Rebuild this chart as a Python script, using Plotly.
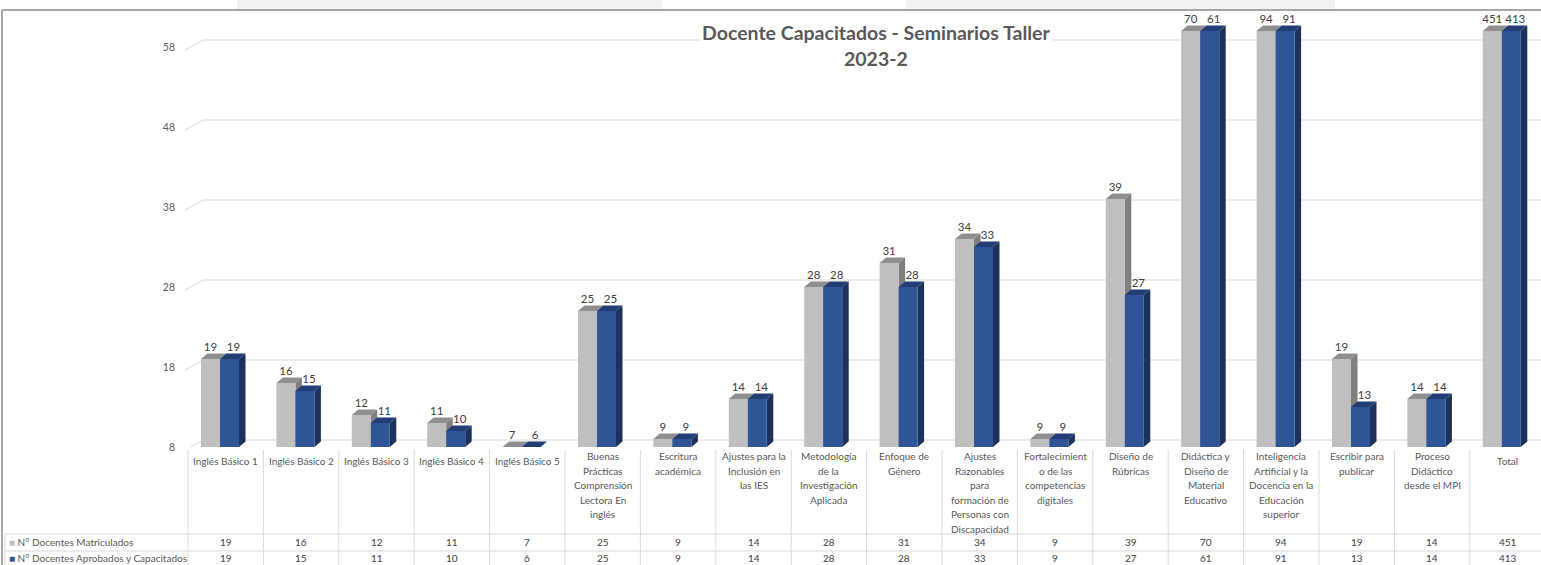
import plotly.graph_objects as go

# ---------------- data ----------------
categories = [
    "Inglés Básico 1", "Inglés Básico 2", "Inglés Básico 3", "Inglés Básico 4",
    "Inglés Básico 5", "Buenas Prácticas Comprensión Lectora En inglés",
    "Escritura académica", "Ajustes para la Inclusión en las IES",
    "Metodología de la Investigación Aplicada", "Enfoque de Género",
    "Ajustes Razonables para formación de Personas con Discapacidad",
    "Fortalecimiento de las competencias digitales", "Diseño de Rúbricas",
    "Didáctica y Diseño de Material Educativo",
    "Inteligencia Artificial y la Docencia en la Educación superior",
    "Escribir para publicar", "Proceso Didáctico desde el MPI", "Total",
]
category_labels = [
    "Inglés Básico 1", "Inglés Básico 2", "Inglés Básico 3", "Inglés Básico 4",
    "Inglés Básico 5", "Buenas<br>Prácticas<br>Comprensión<br>Lectora En<br>inglés",
    "Escritura<br>académica", "Ajustes para la<br>Inclusión en<br>las IES",
    "Metodología<br>de la<br>Investigación<br>Aplicada", "Enfoque de<br>Género",
    "Ajustes<br>Razonables<br>para<br>formación de<br>Personas con<br>Discapacidad",
    "Fortalecimient<br>o de las<br>competencias<br>digitales", "Diseño de<br>Rúbricas",
    "Didáctica y<br>Diseño de<br>Material<br>Educativo",
    "Inteligencia<br>Artificial y la<br>Docencia en la<br>Educación<br>superior",
    "Escribir para<br>publicar", "Proceso<br>Didáctico<br>desde el MPI", "Total",
]
series_names = ["N° Docentes Matriculados", "N° Docentes Aprobados y Capacitados"]
matriculados = [19, 16, 12, 11, 7, 25, 9, 14, 28, 31, 34, 9, 39, 70, 94, 19, 14, 451]
aprobados = [19, 15, 11, 10, 6, 25, 9, 14, 28, 28, 33, 9, 27, 61, 91, 13, 14, 413]
y_ticks = [8, 18, 28, 38, 48, 58]
y_min, y_max = 8, 60
title_lines = ["Docente Capacitados - Seminarios Taller", "2023-2"]

# ---------------- geometry / style ----------------
W, H = 1541, 565
PX_U = 75.4            # pixels per category
PX_V = 8.0             # pixels per value unit
X_LEFT_PX = 179        # plot area left edge
X0_PX = 188            # position of x = -0.5
BASE_PX = 447          # pixel row of y = y_min
TOP_PX = 12
x_lo = -0.5 - (X0_PX - X_LEFT_PX) / PX_U
x_hi = -0.5 + (W - X0_PX) / PX_U
y_hi = y_min + (BASE_PX - TOP_PX) / PX_V
plot_w = W - X_LEFT_PX
plot_h = BASE_PX - TOP_PX


def px_x(px):
    return (px - X_LEFT_PX) / plot_w


def px_y(py):
    return (BASE_PX - py) / plot_h


FONT = "Lato, Calibri, Carlito, 'Liberation Sans', sans-serif"
TXT = "#595959"
bar_w = 19 / PX_U
offsets = [-0.5 + 13 / PX_U, -0.5 + 13 / PX_U + bar_w]
label_shift = [0.0, 4 / PX_U]
dx = 6.5 / PX_U
dy = 5.5 / PX_V
colors = [
    dict(front="#BFBFBF", top="#8F8F8F", side="#7F7F7F"),
    dict(front="#2F5597", top="#213D73", side="#1C325C"),
]

fig = go.Figure()

# back-wall gridlines (with perspective connector from the axis labels)
gx, gy = [], []
for t in y_ticks:
    gx += [-0.5 - 3 / PX_U, -0.5 + 15 / PX_U, x_hi + 1, None]
    gy += [t - 3 / PX_V, t + 7 / PX_V, t + 7 / PX_V, None]
fig.add_trace(go.Scatter(x=gx, y=gy, mode="lines", line=dict(color="#D9D9D9", width=1),
                         hoverinfo="skip", showlegend=False))


def poly_trace(xs, ys, color, name=None):
    return go.Scatter(x=xs, y=ys, mode="lines", fill="toself", fillcolor=color,
                      line=dict(width=0, color=color), name=name,
                      hoverinfo="skip", showlegend=False)


n = len(categories)
for s, vals in enumerate([matriculados, aprobados]):
    c = colors[s]
    vd = [min(max(v, y_min), y_max) for v in vals]
    sx, sy, tx, ty, fx, fy = [], [], [], [], [], []
    for i in range(n):
        x0 = i + offsets[s]
        x1 = x0 + bar_w
        v = vd[i]
        sx += [x1, x1, x1 + dx, x1 + dx, x1, None]
        sy += [y_min, v, v + dy, y_min + dy, y_min, None]
        tx += [x0, x0 + dx, x1 + dx, x1, x0, None]
        ty += [v, v + dy, v + dy, v, v, None]
        fx += [x0, x0, x1, x1, x0, None]
        fy += [y_min, v, v, y_min, y_min, None]
    fig.add_trace(poly_trace(sx, sy, c["side"]))
    fig.add_trace(poly_trace(tx, ty, c["top"]))
    fig.add_trace(poly_trace(fx, fy, c["front"], series_names[s]))
    fig.add_trace(go.Scatter(x=[i + offsets[s] + bar_w / 2 + label_shift[s] for i in range(n)],
                             y=[v + dy for v in vd], mode="text", text=[str(v) for v in vals],
                             textposition="top center", cliponaxis=False,
                             textfont=dict(family=FONT, size=11.5, color="#404040"),
                             hoverinfo="skip", showlegend=False))

shapes = []
# spreadsheet strip above the chart
for a, b in [(237, 662), (906, 1335)]:
    shapes.append(dict(type="rect", xref="paper", yref="paper", x0=px_x(a), x1=px_x(b),
                       y0=px_y(10), y1=px_y(0), fillcolor="#F2F2F2", line=dict(width=0), layer="below"))
# chart border
shapes.append(dict(type="line", xref="paper", yref="paper", x0=px_x(2), x1=px_x(W),
                   y0=px_y(10), y1=px_y(10), line=dict(color="#A6A6A6", width=2)))
shapes.append(dict(type="line", xref="paper", yref="paper", x0=px_x(2), x1=px_x(2),
                   y0=px_y(10), y1=px_y(H), line=dict(color="#A6A6A6", width=2)))
# data table lines
for i in range(n + 1):
    shapes.append(dict(type="line", xref="x", yref="paper", x0=i - 0.5, x1=i - 0.5,
                       y0=px_y(450), y1=px_y(H), line=dict(color="#D9D9D9", width=1)))
shapes.append(dict(type="line", xref="paper", yref="paper", x0=px_x(5), x1=px_x(5),
                   y0=px_y(534), y1=px_y(H), line=dict(color="#D9D9D9", width=1)))
for py in (534, 551):
    shapes.append(dict(type="line", xref="paper", yref="paper", x0=px_x(5), x1=px_x(W),
                       y0=px_y(py), y1=px_y(py), line=dict(color="#D9D9D9", width=1)))

annotations = []
# title
for k, line in enumerate(title_lines):
    annotations.append(dict(text=line, xref="paper", yref="paper", x=px_x(876), y=px_y(32 + 27 * k),
                            xanchor="center", yanchor="middle", showarrow=False, bgcolor="white",
                            font=dict(family=FONT, size=19.5, color=TXT, weight="bold")))
# category labels (data table header), one text per wrapped line
for i, lab in enumerate(category_labels):
    lines = lab.split("<br>")
    first = 461 if len(lines) == 1 else 456
    for k, ln in enumerate(lines):
        annotations.append(dict(text=ln, xref="x", yref="paper", x=i, y=px_y(first + 14.6 * k),
                                xanchor="center", yanchor="middle", showarrow=False,
                                font=dict(family=FONT, size=10, color=TXT)))
# table rows
row_y = [542, 558]
for s, vals in enumerate([matriculados, aprobados]):
    annotations.append(dict(text=f"<span style='color:{colors[s]['front']}'>■</span> {series_names[s]}",
                            xref="paper", yref="paper", x=px_x(7), y=px_y(row_y[s]),
                            xanchor="left", yanchor="middle", showarrow=False,
                            font=dict(family=FONT, size=10, color=TXT)))
    for i, v in enumerate(vals):
        annotations.append(dict(text=str(v), xref="x", yref="paper", x=i, y=px_y(row_y[s]),
                                xanchor="center", yanchor="middle", showarrow=False,
                                font=dict(family=FONT, size=10, color="#404040")))

fig.update_layout(
    width=W, height=H,
    margin=dict(l=X_LEFT_PX, r=0, t=TOP_PX, b=H - BASE_PX),
    paper_bgcolor="white", plot_bgcolor="white",
    showlegend=False, hovermode=False,
    shapes=shapes, annotations=annotations,
    xaxis=dict(range=[x_lo, x_hi], showticklabels=False,
               showgrid=False, zeroline=False, showline=False, ticks=""),
    yaxis=dict(range=[y_min, y_hi], tickvals=y_ticks, showgrid=False, zeroline=False,
               showline=False, ticks="", ticklabelstandoff=3,
               tickfont=dict(family=FONT, size=10.5, color=TXT)),
)

fig.write_html("out.html", config={"displayModeBar": False},
               post_script="document.body.style.margin='0';document.body.style.overflow='hidden';")
